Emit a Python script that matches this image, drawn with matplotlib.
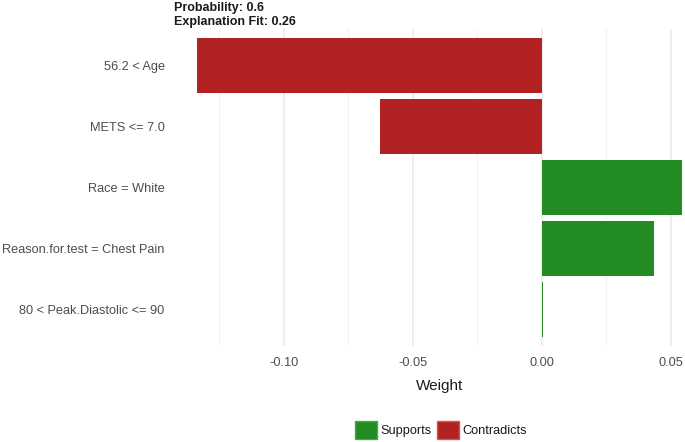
import matplotlib
matplotlib.use("Agg")
import matplotlib.pyplot as plt
from matplotlib.patches import Patch
from matplotlib.ticker import MultipleLocator

features = ["56.2 < Age", "METS <= 7.0", "Race = White",
            "Reason.for.test = Chest Pain", "80 < Peak.Diastolic <= 90"]
weights = [-0.1335, -0.0625, 0.0543, 0.0434, 0.0005]
xticks = [-0.10, -0.05, 0.00, 0.05]
xtick_labels = ["-0.10", "-0.05", "0.00", "0.05"]
title_lines = ["Probability: 0.6", "Explanation Fit: 0.26"]

RED = "#B22222"
GREEN = "#228B22"

plt.rcParams['font.family'] = ['Liberation Sans', 'DejaVu Sans']

fig = plt.figure(figsize=(6.85, 4.42), dpi=100)
ax = fig.add_axes([173/685, 1-346/442, 533/685, (346-29)/442])

n = len(features)
ypos = list(range(n, 0, -1))
colors = [GREEN if w >= 0 else RED for w in weights]
ax.barh(ypos, weights, height=0.9, color=colors, zorder=2)

lo = min(min(weights), 0)
hi = max(max(weights), 0)
rng = hi - lo
ax.set_xlim(lo - 0.05*rng, hi + 0.05*rng)
ax.set_ylim(0.4, n + 0.6)

ax.set_xticks(xticks)
ax.set_xticklabels(xtick_labels)
ax.xaxis.set_minor_locator(MultipleLocator(0.025))
ax.set_yticks(ypos)
ax.set_yticklabels(features)

ax.grid(axis='x', which='major', color='#EBEBEB', lw=1.2, zorder=0)
ax.grid(axis='x', which='minor', color='#F2F2F2', lw=0.8, zorder=0)
ax.grid(axis='y', visible=False)
for s in ax.spines.values():
    s.set_visible(False)
ax.tick_params(axis='both', which='both', length=0, labelsize=9.2, labelcolor='#4D4D4D')
ax.tick_params(axis='x', pad=8)
ax.tick_params(axis='y', pad=6)
ax.set_xlabel("Weight", fontsize=11, color='#1A1A1A', labelpad=7)

fig.text(174/685, 1-8/442, title_lines[0], fontsize=9, fontweight='bold',
         color='#1A1A1A', va='center', ha='left')
fig.text(174/685, 1-22/442, title_lines[1], fontsize=9, fontweight='bold',
         color='#1A1A1A', va='center', ha='left')

handles = [Patch(facecolor=GREEN, edgecolor='#4CA64C', label='Supports'),
           Patch(facecolor=RED, edgecolor='#C85A5A', label='Contradicts')]
fig.legend(handles=handles, loc='center', bbox_to_anchor=(441/685, 1-430/442),
           ncol=2, frameon=False, fontsize=9.2, handlelength=1.75, handleheight=1.75,
           handletextpad=0.25, columnspacing=0.4, labelcolor='#1A1A1A')

fig.savefig("out.png", dpi=100)
